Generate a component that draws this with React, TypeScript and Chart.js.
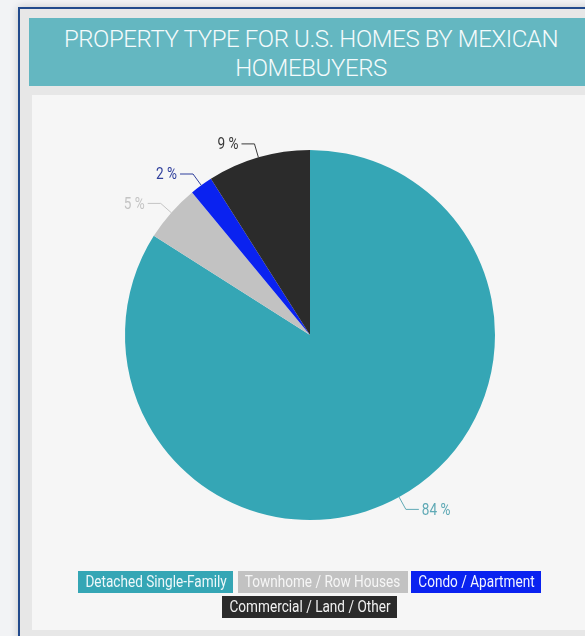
import React, { useEffect, useRef } from "react";
import { Chart, registerables } from "chart.js";

Chart.register(...registerables);

const titleLines = ["PROPERTY TYPE FOR U.S. HOMES BY MEXICAN", "HOMEBUYERS"];
const categories = [
  "Detached Single-Family",
  "Townhome / Row Houses",
  "Condo / Apartment",
  "Commercial / Land / Other",
];
const values = [84, 5, 2, 9];
const sliceColors = ["#35a6b5", "#c2c2c2", "#0a22f0", "#2b2b2b"];
const labelColors = ["#5fa9b5", "#c4c4c4", "#2f3f9c", "#3a3a3a"];
const legendTextColors = ["#eef8fa", "#f6f6f6", "#f2f4ff", "#f0f0f0"];

const FONT = "Roboto, 'Open Sans', sans-serif";
const SX = 0.8;

function drawNarrow(ctx: any, text: string, x: number, y: number, align: "left" | "right" | "center") {
  const w = ctx.measureText(text).width * SX;
  let left = x;
  if (align === "right") left = x - w;
  if (align === "center") left = x - w / 2;
  ctx.save();
  ctx.translate(left, y);
  ctx.scale(SX, 1);
  ctx.textAlign = "left";
  ctx.fillText(text, 0, 0);
  ctx.restore();
  return w;
}

const leaderPlugin = {
  id: "leaders",
  afterDatasetsDraw(chart: any) {
    const ctx = chart.ctx;
    const meta = chart.getDatasetMeta(0);
    const data = chart.data.datasets[0].data as number[];
    ctx.save();
    ctx.font = `17px ${FONT}`;
    ctx.textBaseline = "middle";
    ctx.lineWidth = 1;
    meta.data.forEach((arc: any, i: number) => {
      const { x, y, outerRadius, startAngle, endAngle } = arc.getProps(
        ["x", "y", "outerRadius", "startAngle", "endAngle"],
        true
      );
      const mid = (startAngle + endAngle) / 2;
      const cos = Math.cos(mid);
      const sin = Math.sin(mid);
      const p0x = x + outerRadius * cos;
      const p0y = y + outerRadius * sin;
      const p1x = x + (outerRadius + 14) * cos;
      const p1y = y + (outerRadius + 14) * sin;
      const right = cos >= 0;
      const p2x = p1x + (right ? 13 : -13);
      ctx.strokeStyle = labelColors[i];
      ctx.beginPath();
      ctx.moveTo(p0x, p0y);
      ctx.lineTo(p1x, p1y);
      ctx.lineTo(p2x, p1y);
      ctx.stroke();
      ctx.fillStyle = labelColors[i];
      drawNarrow(ctx, `${data[i]} %`, p2x + (right ? 3 : -3), p1y + 1, right ? "left" : "right");
    });
    ctx.restore();
  },
};

const legendPlugin = {
  id: "boxLegend",
  afterDraw(chart: any) {
    const ctx = chart.ctx;
    const labels = chart.data.labels as string[];
    const colors = chart.data.datasets[0].backgroundColor as string[];
    const cx = (chart.chartArea.left + chart.chartArea.right) / 2;
    const top = chart.chartArea.bottom + 51;
    const boxH = 22;
    const padX = 7;
    const gap = 4;
    const rowGap = 3;
    const maxW = 470;
    ctx.save();
    ctx.font = `17px ${FONT}`;
    ctx.textBaseline = "middle";
    const items = labels.map((l, i) => ({
      l,
      i,
      w: ctx.measureText(l).width * SX + padX * 2,
    }));
    const rows: any[][] = [[]];
    let rowW = 0;
    items.forEach((it) => {
      const add = rows[rows.length - 1].length ? gap + it.w : it.w;
      if (rowW + add > maxW && rows[rows.length - 1].length) {
        rows.push([it]);
        rowW = it.w;
      } else {
        rows[rows.length - 1].push(it);
        rowW += add;
      }
    });
    rows.forEach((row, r) => {
      const total = row.reduce((s, it) => s + it.w, 0) + gap * (row.length - 1);
      let x = cx - total / 2;
      const y = top + r * (boxH + rowGap);
      row.forEach((it) => {
        ctx.fillStyle = colors[it.i];
        ctx.fillRect(Math.round(x), y, Math.round(it.w), boxH);
        ctx.fillStyle = legendTextColors[it.i];
        drawNarrow(ctx, it.l, x + padX, y + boxH / 2 + 1, "left");
        x += it.w + gap;
      });
    });
    ctx.restore();
  },
};

export default function App() {
  const ref = useRef<HTMLCanvasElement | null>(null);

  useEffect(() => {
    if (!ref.current) return;
    const chart = new Chart(ref.current, {
      type: "pie",
      data: {
        labels: categories,
        datasets: [
          {
            data: values,
            backgroundColor: sliceColors,
            borderWidth: 0,
          },
        ],
      },
      options: {
        animation: false,
        responsive: false,
        events: [],
        layout: { padding: { top: 55, bottom: 110, left: 0, right: 0 } },
        plugins: {
          legend: { display: false },
          tooltip: { enabled: false },
          title: { display: false },
        },
      },
      plugins: [leaderPlugin, legendPlugin],
    });
    return () => chart.destroy();
  }, []);

  return (
    <div
      style={{
        position: "absolute",
        left: 0,
        top: 0,
        width: 585,
        height: 636,
        overflow: "hidden",
        background: "#f2f3f5",
      }}
    >
      <div
        style={{
          position: "absolute",
          left: 18,
          top: 7,
          width: 600,
          height: 660,
          borderLeft: "2px solid #224a8c",
          borderTop: "2px solid #224a8c",
          background: "#e7e7e7",
          boxShadow: "0 0 8px rgba(0,0,0,0.18)",
        }}
      />
      <div
        style={{
          position: "absolute",
          left: 29,
          top: 18,
          width: 564,
          height: 68,
          background: "#64b7c1",
          color: "#f4fbfc",
          fontFamily: "Roboto, 'Open Sans', sans-serif",
          fontWeight: 300,
          fontSize: 24,
          letterSpacing: "-0.4px",
          lineHeight: "29px",
          textAlign: "center",
          paddingTop: 7,
          boxSizing: "border-box",
        }}
      >
        {titleLines.map((t) => (
          <div key={t}>{t}</div>
        ))}
      </div>
      <div
        style={{
          position: "absolute",
          left: 32,
          top: 95,
          width: 561,
          height: 535,
          background: "#f6f6f6",
        }}
      />
      <canvas
        ref={ref}
        width={556}
        height={535}
        style={{ position: "absolute", left: 32, top: 95, width: 556, height: 535 }}
      />
    </div>
  );
}
